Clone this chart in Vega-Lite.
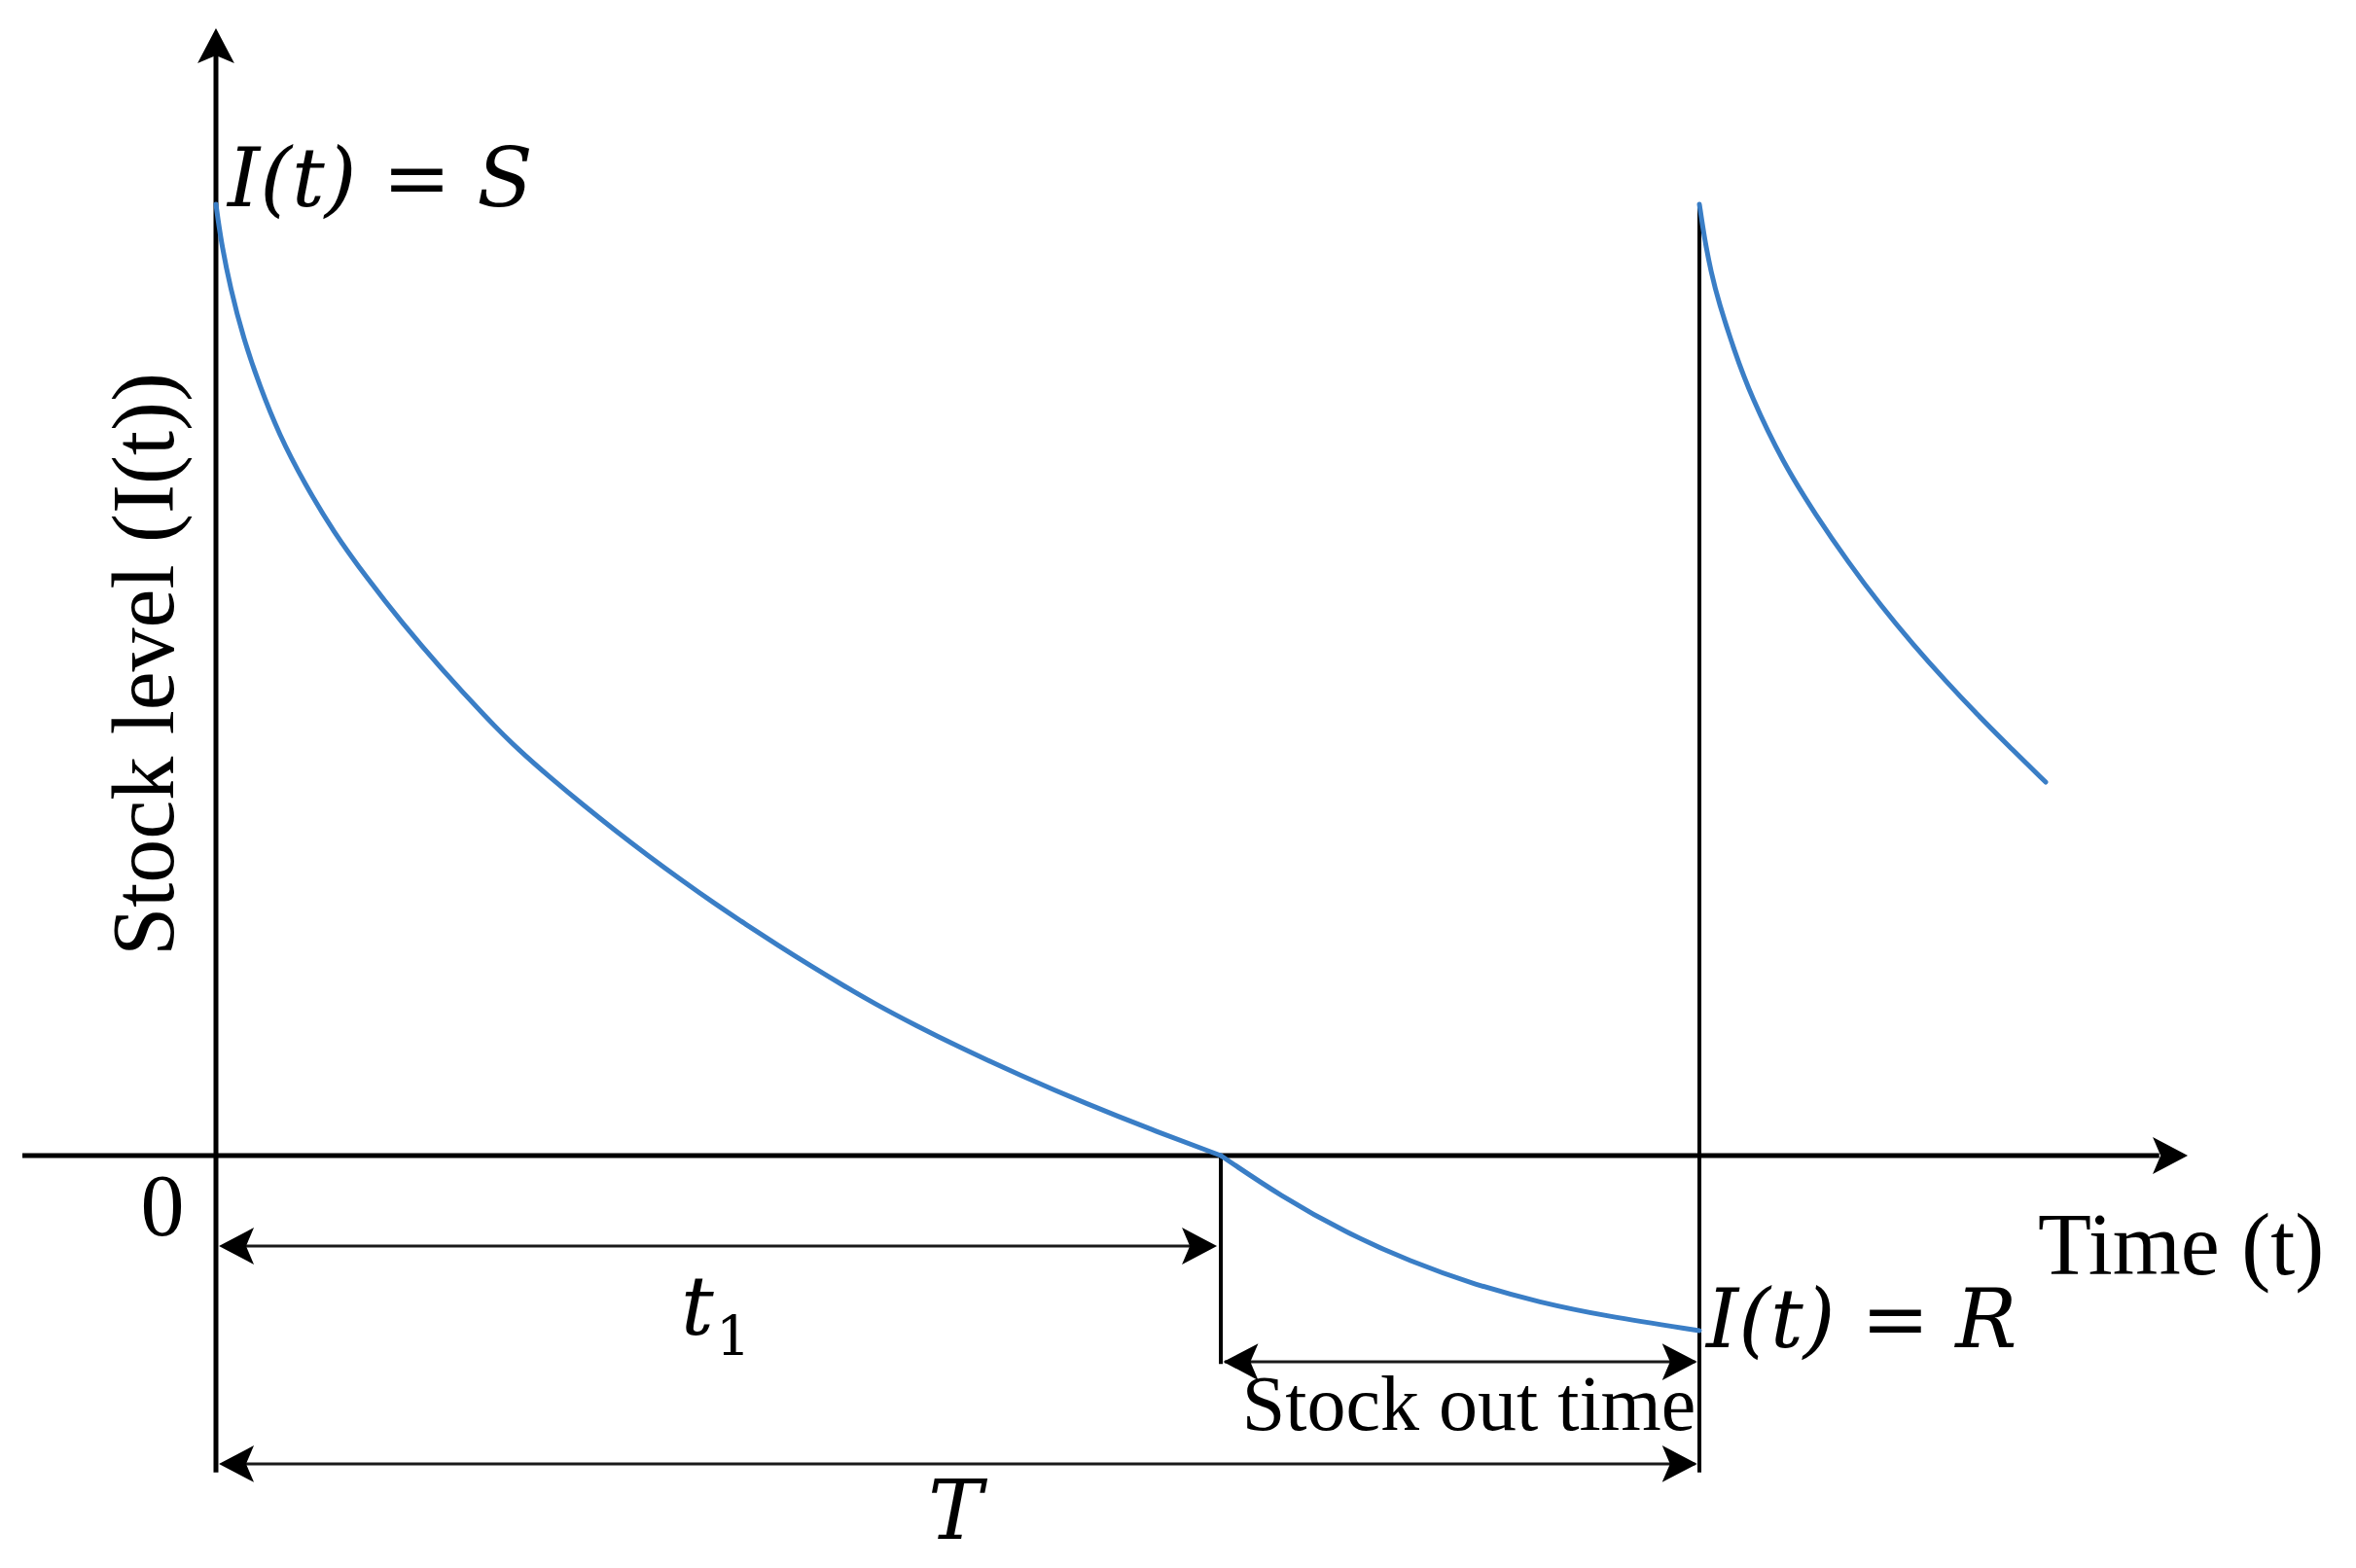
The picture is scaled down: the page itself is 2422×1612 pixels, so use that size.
{
  "$schema": "https://vega.github.io/schema/vega-lite/v6.json",
  "width": 2422,
  "height": 1612,
  "autosize": {"type": "none"},
  "padding": 0,
  "background": "white",
  "config": {"view": {"stroke": null}},
  "datasets": {
    "curve": [
      {"segment": "holding", "t": 0, "level": 100},
      {"segment": "holding", "t": 0.0328, "level": 96.22},
      {"segment": "holding", "t": 0.0984, "level": 91.10},
      {"segment": "holding", "t": 0.1836, "level": 85.99},
      {"segment": "holding", "t": 0.2951, "level": 80.88},
      {"segment": "holding", "t": 0.4262, "level": 75.77},
      {"segment": "holding", "t": 0.5967, "level": 70.65},
      {"segment": "holding", "t": 0.7934, "level": 65.54},
      {"segment": "holding", "t": 1.0164, "level": 60.74},
      {"segment": "holding", "t": 1.2525, "level": 56.03},
      {"segment": "holding", "t": 1.5148, "level": 51.23},
      {"segment": "holding", "t": 1.8230, "level": 46.01},
      {"segment": "holding", "t": 2.0393, "level": 42.64},
      {"segment": "holding", "t": 2.2623, "level": 39.62},
      {"segment": "holding", "t": 2.4787, "level": 36.81},
      {"segment": "holding", "t": 2.6951, "level": 34.12},
      {"segment": "holding", "t": 2.9180, "level": 31.47},
      {"segment": "holding", "t": 3.1344, "level": 29.00},
      {"segment": "holding", "t": 3.3508, "level": 26.61},
      {"segment": "holding", "t": 3.5738, "level": 24.28},
      {"segment": "holding", "t": 3.7902, "level": 22.09},
      {"segment": "holding", "t": 4.0066, "level": 19.97},
      {"segment": "holding", "t": 4.2295, "level": 17.87},
      {"segment": "holding", "t": 4.4459, "level": 15.92},
      {"segment": "holding", "t": 4.7213, "level": 13.65},
      {"segment": "holding", "t": 4.9902, "level": 11.55},
      {"segment": "holding", "t": 5.4295, "level": 8.38},
      {"segment": "holding", "t": 5.8689, "level": 5.44},
      {"segment": "holding", "t": 6.3016, "level": 2.75},
      {"segment": "holding", "t": 6.7738, "level": 0},
      {"segment": "shortage", "t": 6.7738, "level": 0},
      {"segment": "shortage", "t": 7.1803, "level": -4.29},
      {"segment": "shortage", "t": 7.6131, "level": -8.08},
      {"segment": "shortage", "t": 8.0525, "level": -11.15},
      {"segment": "shortage", "t": 8.4918, "level": -13.60},
      {"segment": "shortage", "t": 8.9246, "level": -15.44},
      {"segment": "shortage", "t": 9.3639, "level": -16.87},
      {"segment": "shortage", "t": 10, "level": -18.40},
      {"segment": "next", "t": 10, "level": 100},
      {"segment": "next", "t": 10.0328, "level": 96.52},
      {"segment": "next", "t": 10.0787, "level": 92.84},
      {"segment": "next", "t": 10.1311, "level": 89.67},
      {"segment": "next", "t": 10.2361, "level": 84.56},
      {"segment": "next", "t": 10.3475, "level": 79.86},
      {"segment": "next", "t": 10.5639, "level": 72.80},
      {"segment": "next", "t": 10.7869, "level": 67.28},
      {"segment": "next", "t": 11.0033, "level": 62.37},
      {"segment": "next", "t": 11.2197, "level": 57.87},
      {"segment": "next", "t": 11.4426, "level": 53.68},
      {"segment": "next", "t": 11.6590, "level": 49.90},
      {"segment": "next", "t": 11.8754, "level": 46.32},
      {"segment": "next", "t": 12.0984, "level": 42.84},
      {"segment": "next", "t": 12.3344, "level": 39.26}
    ],
    "segments": [
      {"kind": "axis", "x": 0, "y": -33.3, "x2": 0, "y2": 116.5},
      {"kind": "axis", "x": -1.305, "y": 0, "x2": 13.1, "y2": 0},
      {"kind": "guide", "x": 10, "y": 100, "x2": 10, "y2": -33.3},
      {"kind": "guide", "x": 6.774, "y": 0, "x2": 6.774, "y2": -21.9},
      {"kind": "dim", "x": 0.05, "y": -9.51, "x2": 6.72, "y2": -9.51},
      {"kind": "dim", "x": 6.8, "y": -21.68, "x2": 9.97, "y2": -21.68},
      {"kind": "dim", "x": 0.05, "y": -32.41, "x2": 9.97, "y2": -32.41}
    ],
    "arrows": [
      {"dir": "up", "x": 0, "y": 118.5},
      {"dir": "right", "x": 13.292, "y": 0},
      {"dir": "left", "x": 0.02, "y": -9.51},
      {"dir": "right", "x": 6.748, "y": -9.51},
      {"dir": "left", "x": 6.79, "y": -21.68},
      {"dir": "right", "x": 9.985, "y": -21.68},
      {"dir": "left", "x": 0.02, "y": -32.41},
      {"dir": "right", "x": 9.985, "y": -32.41}
    ],
    "labels": [
      {"group": "mathLeft", "text": "I(t) = S", "x": 0.079, "y": 99.8},
      {"group": "mathLeft", "text": "I(t) = R", "x": 10.046, "y": -20.14},
      {"group": "mathCenter", "text": "T", "x": 4.984, "y": -40.29},
      {"group": "mathLeft", "text": "t", "x": 3.134, "y": -18.81},
      {"group": "sub", "text": "1", "x": 3.37, "y": -20.96},
      {"group": "plainLeft", "text": "Time (t)", "x": 12.282, "y": -12.47},
      {"group": "plainCenter", "text": "0", "x": -0.361, "y": -8.38},
      {"group": "small", "text": "Stock out time", "x": 8.446, "y": -28.83},
      {"group": "ylab", "text": "Stock level (I(t))", "x": -0.2885, "y": 51.64}
    ]
  },
  "layer": [
    {
      "data": {"name": "segments"},
      "transform": [{"filter": "datum.kind === 'axis'"}],
      "mark": {"type": "rule", "color": "#000000", "strokeWidth": 5},
      "encoding": {
        "x": {"field": "x", "type": "quantitative", "axis": null, "scale": {"domain": [-1.4557, 14.4262], "nice": false, "zero": false}},
        "y": {"field": "y", "type": "quantitative", "axis": null, "scale": {"domain": [-43.354, 121.472], "nice": false, "zero": false}},
        "x2": {"field": "x2"},
        "y2": {"field": "y2"}
      }
    },
    {
      "data": {"name": "segments"},
      "transform": [{"filter": "datum.kind === 'guide'"}],
      "mark": {"type": "rule", "color": "#000000", "strokeWidth": 4},
      "encoding": {
        "x": {"field": "x", "type": "quantitative", "axis": null},
        "y": {"field": "y", "type": "quantitative", "axis": null},
        "x2": {"field": "x2"},
        "y2": {"field": "y2"}
      }
    },
    {
      "data": {"name": "segments"},
      "transform": [{"filter": "datum.kind === 'dim'"}],
      "mark": {"type": "rule", "color": "#1a1a1a", "strokeWidth": 3},
      "encoding": {
        "x": {"field": "x", "type": "quantitative", "axis": null},
        "y": {"field": "y", "type": "quantitative", "axis": null},
        "x2": {"field": "x2"},
        "y2": {"field": "y2"}
      }
    },
    {
      "data": {"name": "curve"},
      "mark": {"type": "line", "color": "#3a7ec6", "strokeWidth": 5, "interpolate": "basis", "strokeCap": "round"},
      "encoding": {
        "x": {"field": "t", "type": "quantitative", "axis": null},
        "y": {"field": "level", "type": "quantitative", "axis": null},
        "detail": {"field": "segment", "type": "nominal"}
      }
    },
    {
      "data": {"name": "arrows"},
      "mark": {"type": "point", "filled": true, "color": "#000000", "opacity": 1, "size": 1296, "strokeWidth": 0},
      "encoding": {
        "x": {"field": "x", "type": "quantitative", "axis": null},
        "y": {"field": "y", "type": "quantitative", "axis": null},
        "shape": {
          "field": "dir",
          "type": "nominal",
          "legend": null,
          "scale": {
            "domain": ["up", "right", "left"],
            "range": ["M0,0 L-1.05,2 L0,1.55 L1.05,2 Z", "M0,0 L-2,-1.05 L-1.55,0 L-2,1.05 Z", "M0,0 L2,-1.05 L1.55,0 L2,1.05 Z"]
          }
        }
      }
    },
    {
      "data": {"name": "labels"},
      "transform": [{"filter": "datum.group === 'mathLeft'"}],
      "mark": {"type": "text", "font": "DejaVu Serif", "fontStyle": "italic", "fontSize": 84, "baseline": "alphabetic", "align": "left", "color": "#000000"},
      "encoding": {
        "x": {"field": "x", "type": "quantitative", "axis": null},
        "y": {"field": "y", "type": "quantitative", "axis": null},
        "text": {"field": "text"}
      }
    },
    {
      "data": {"name": "labels"},
      "transform": [{"filter": "datum.group === 'mathCenter'"}],
      "mark": {"type": "text", "font": "DejaVu Serif", "fontStyle": "italic", "fontSize": 84, "baseline": "alphabetic", "align": "center", "color": "#000000"},
      "encoding": {
        "x": {"field": "x", "type": "quantitative", "axis": null},
        "y": {"field": "y", "type": "quantitative", "axis": null},
        "text": {"field": "text"}
      }
    },
    {
      "data": {"name": "labels"},
      "transform": [{"filter": "datum.group === 'sub'"}],
      "mark": {"type": "text", "font": "DejaVu Serif", "fontSize": 56, "baseline": "alphabetic", "align": "left", "color": "#000000"},
      "encoding": {
        "x": {"field": "x", "type": "quantitative", "axis": null},
        "y": {"field": "y", "type": "quantitative", "axis": null},
        "text": {"field": "text"}
      }
    },
    {
      "data": {"name": "labels"},
      "transform": [{"filter": "datum.group === 'plainLeft'"}],
      "mark": {"type": "text", "font": "Liberation Serif", "fontSize": 90, "baseline": "alphabetic", "align": "left", "color": "#000000"},
      "encoding": {
        "x": {"field": "x", "type": "quantitative", "axis": null},
        "y": {"field": "y", "type": "quantitative", "axis": null},
        "text": {"field": "text"}
      }
    },
    {
      "data": {"name": "labels"},
      "transform": [{"filter": "datum.group === 'plainCenter'"}],
      "mark": {"type": "text", "font": "Liberation Serif", "fontSize": 90, "baseline": "alphabetic", "align": "center", "color": "#000000"},
      "encoding": {
        "x": {"field": "x", "type": "quantitative", "axis": null},
        "y": {"field": "y", "type": "quantitative", "axis": null},
        "text": {"field": "text"}
      }
    },
    {
      "data": {"name": "labels"},
      "transform": [{"filter": "datum.group === 'small'"}],
      "mark": {"type": "text", "font": "Liberation Serif", "fontSize": 80, "baseline": "alphabetic", "align": "center", "color": "#000000"},
      "encoding": {
        "x": {"field": "x", "type": "quantitative", "axis": null},
        "y": {"field": "y", "type": "quantitative", "axis": null},
        "text": {"field": "text"}
      }
    },
    {
      "data": {"name": "labels"},
      "transform": [{"filter": "datum.group === 'ylab'"}],
      "mark": {"type": "text", "font": "Liberation Serif", "fontSize": 90, "baseline": "alphabetic", "align": "center", "angle": 270, "color": "#000000"},
      "encoding": {
        "x": {"field": "x", "type": "quantitative", "axis": null},
        "y": {"field": "y", "type": "quantitative", "axis": null},
        "text": {"field": "text"}
      }
    }
  ]
}
